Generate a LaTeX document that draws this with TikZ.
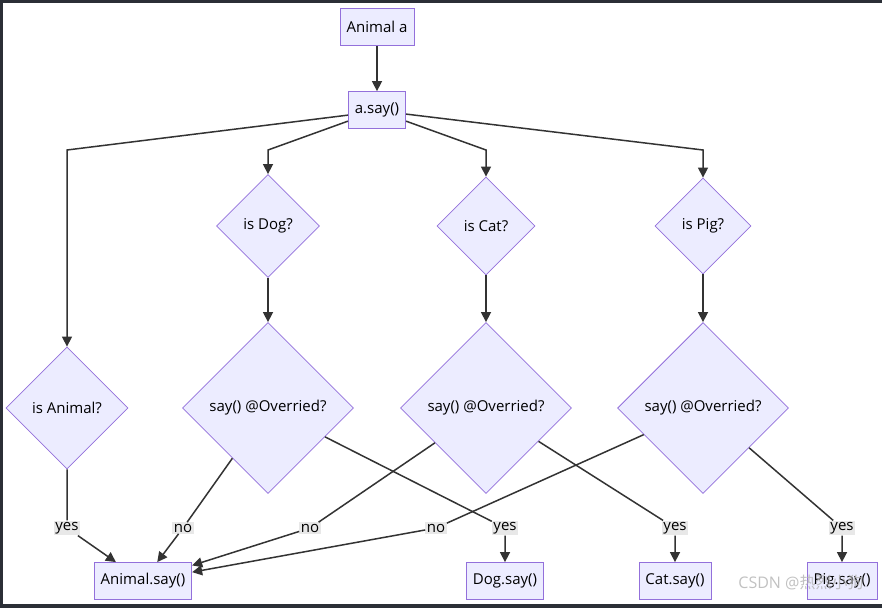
\documentclass[tikz,border=0pt]{standalone}
\usepackage{fontspec}
\setmainfont{Open Sans}
\newfontfamily\cjk{Noto Sans CJK SC}
\usetikzlibrary{shapes.geometric,arrows.meta}
\definecolor{boxfill}{HTML}{ECECFF}
\definecolor{boxline}{HTML}{9370DB}
\definecolor{edgecol}{HTML}{333333}
\definecolor{labfill}{HTML}{E8E8E8}
\definecolor{framecol}{HTML}{2B2F36}
\tikzset{
  proc/.style={draw=boxline, fill=boxfill, line width=0.8pt, minimum height=37pt, inner xsep=6.5pt, font=\fontsize{15}{17}\selectfont},
  decide/.style={diamond, aspect=1, draw=boxline, fill=boxfill, line width=0.8pt, inner sep=0pt, font=\fontsize{15}{17}\selectfont},
  lab/.style={fill=labfill, inner sep=1.5pt, font=\fontsize{15}{17}\selectfont},
  flow/.style={draw=edgecol, line width=1.5pt, -{Triangle[length=10pt,width=10pt]}},
}

\begin{document}
\begin{tikzpicture}[x=1pt,y=-1pt]
    \fill[framecol] (0,0) rectangle (882,608);
    \fill[white] (3,3) rectangle (882,604);
    \coordinate (split) at (0,150);
    \coordinate (labrow) at (0,528);

    \node[proc] (animal) at (377,27) {Animal a};
    \node[proc] (asay) at (377,110) {a.say()};
    \node[decide, minimum width=122pt, minimum height=122pt] (isanimal) at (67,408) {is Animal?};
    \node[decide, minimum width=103pt, minimum height=103pt] (isdog) at (268,226) {is Dog?};
    \node[decide, minimum width=98pt, minimum height=98pt] (iscat) at (486,226) {is Cat?};
    \node[decide, minimum width=96pt, minimum height=96pt] (ispig) at (703,226) {is Pig?};
    \node[decide, minimum width=171pt, minimum height=171pt] (dogover) at (268,408) {say() @Overried?};
    \node[decide, minimum width=171pt, minimum height=171pt] (catover) at (486,408) {say() @Overried?};
    \node[decide, minimum width=171pt, minimum height=171pt] (pigover) at (703,408) {say() @Overried?};
    \node[proc] (animalsay) at (143,581) {Animal.say()};
    \node[proc] (dogsay) at (505,581) {Dog.say()};
    \node[proc] (catsay) at (675,581) {Cat.say()};
    \node[proc] (pigsay) at (842,581) {Pig.say()};

    \node[lab] (yesA) at (isanimal |- labrow) {yes};
    \node[lab] (noD) at (183,528) {no};
    \node[lab] (noC) at (310,528) {no};
    \node[lab] (noP) at (436,528) {no};
    \node[lab] (yesD) at (dogsay |- labrow) {yes};
    \node[lab] (yesC) at (catsay |- labrow) {yes};
    \node[lab] (yesP) at (pigsay |- labrow) {yes};

    \draw[flow] (animal) -- (asay);
    \draw[flow] (asay.190) -- (isanimal.north |- split) -- (isanimal);
    \draw[flow] (asay.201) -- (isdog.north |- split) -- (isdog);
    \draw[flow] (asay.339) -- (iscat.north |- split) -- (iscat);
    \draw[flow] (asay.352) -- (ispig.north |- split) -- (ispig);
    \draw[flow] (isdog) -- (dogover);
    \draw[flow] (iscat) -- (catover);
    \draw[flow] (ispig) -- (pigover);

    \draw[flow] (isanimal) -- (yesA) -- (animalsay);
    \draw[flow] (dogover) -- (noD) -- (animalsay);
    \draw[flow] (catover) -- (noC) -- (animalsay);
    \draw[flow] (pigover) -- (noP) -- (animalsay);
    \draw[flow] (dogover) -- (yesD) -- (dogsay);
    \draw[flow] (catover) -- (yesC) -- (catsay);
    \draw[flow] (pigover) -- (yesP) -- (pigsay);

    \node[text=gray!60, opacity=0.8, font=\fontsize{16}{18}\selectfont] (mark) at (801,582) {CSDN @{\cjk 热烈小狗}};
\end{tikzpicture}
\end{document}
